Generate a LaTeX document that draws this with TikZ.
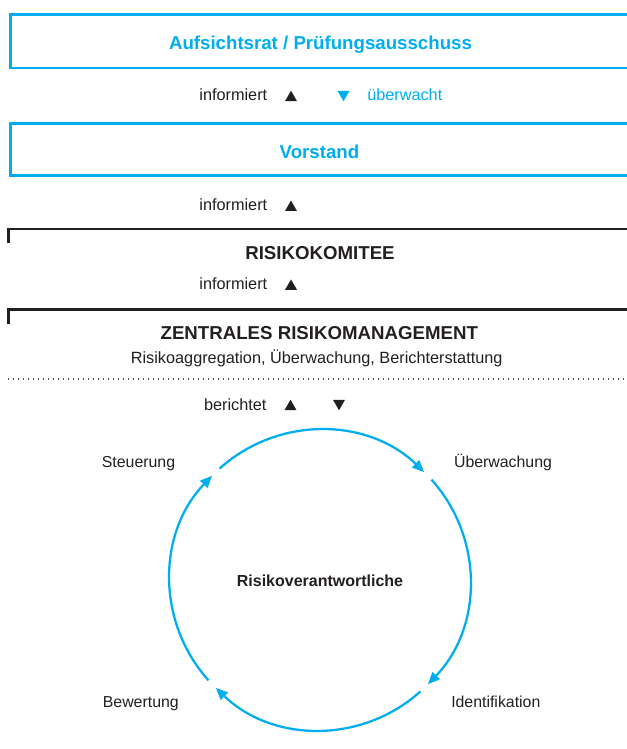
\documentclass[tikz,border=0pt]{standalone}
\usepackage{fontspec}
\setmainfont{Liberation Sans}
\usetikzlibrary{arrows.meta,shapes.geometric}
\definecolor{cyanblue}{RGB}{0,174,239}
\definecolor{inkblack}{RGB}{35,31,32}
\begin{document}
\begin{tikzpicture}[x=0.75pt,y=0.75pt,
  txt/.style={anchor=base,inner sep=0,text=inkblack,font=\fontsize{12.2}{14}\selectfont},
  lbl/.style={txt,font=\fontsize{11.9}{14}\selectfont},
  head/.style={anchor=base,inner sep=0,font=\fontsize{14}{16}\selectfont\bfseries},
  tri/.style={regular polygon,regular polygon sides=3,fill=inkblack,inner sep=0,minimum size=10.4pt},
  tridown/.style={tri,shape border rotate=180},
  cyc/.style={cyanblue,line width=1.7pt,-{Triangle[length=9pt,width=7.5pt]}}]
% Frame
\useasboundingbox (0,0) rectangle (627,749);
% Boxes
\draw[cyanblue,line width=1.9pt] (10.3,681.2) rectangle (640,734.5);
\draw[cyanblue,line width=1.9pt] (10.3,573.7) rectangle (640,625.3);
% Brackets
\draw[inkblack,line width=1.7pt] (8.5,505.7) -- (8.5,520.2) -- (640,520.2);
\draw[inkblack,line width=1.7pt] (8.5,425) -- (8.5,439.5) -- (640,439.5);
% Dotted line
\draw[inkblack!80,line width=0.8pt,dash pattern=on 0.8pt off 2.95pt] (8,370) -- (627,370);
% Titles
\node[head,text=cyanblue] (aufsicht) at (320.5,699.7) {Aufsichtsrat / Prüfungsausschuss};
\node[head,text=cyanblue] (vorstand) at (319.5,590.7) {Vorstand};
\node[head,text=inkblack] (komitee) at (320,489) {RISIKOKOMITEE};
\node[head,text=inkblack] (zentral) at (319.3,409.7) {ZENTRALES RISIKOMANAGEMENT};
\node[txt] (aufgaben) at (316.7,385) {Risikoaggregation, Überwachung, Berichterstattung};
% Rows
\node[txt,anchor=base east] (info1) at (267.5,648) {informiert};
\node[tri] (up1) at (291,651.3) {};
\node[tridown,fill=cyanblue] (down1) at (343.5,654.7) {};
\node[txt,anchor=base west,text=cyanblue] (ueber) at (367,648) {überwacht};
\node[txt,anchor=base east] (info2) at (267.5,538) {informiert};
\node[tri] (up2) at (291,541.5) {};
\node[txt,anchor=base east] (info3) at (267.5,459.7) {informiert};
\node[tri] (up3) at (291,462.6) {};
\node[txt,anchor=base east] (bericht) at (266.7,338.3) {berichtet};
\node[tri] (up4) at (290.5,342.3) {};
\node[tridown] (down4) at (339,345.7) {};
% Cycle
\node[circle,minimum size=225pt,inner sep=0,outer sep=0] (ring) at (320,169) {};
\foreach \s/\e in {132/46,42/-44,-48/-134,222/136}
  \draw[cyc] (ring.\s) arc[start angle=\s,end angle=\e,radius=112.5pt];
\node[txt,font=\fontsize{12}{14}\selectfont\bfseries] (risk) at (320,162.3) {Risikoverantwortliche};
\node[lbl] (steuer) at (138.5,281.7) {Steuerung};
\node[lbl] (ueberw) at (503,281.7) {Überwachung};
\node[lbl] (bewert) at (140.8,41.7) {Bewertung};
\node[lbl] (ident) at (495.8,41.7) {Identifikation};
\end{tikzpicture}
\end{document}
